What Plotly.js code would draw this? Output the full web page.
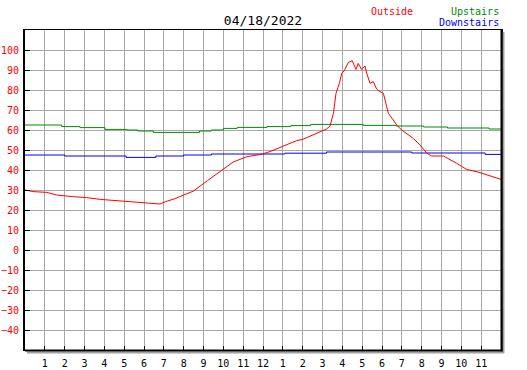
<!DOCTYPE html>
<html>
<head>
<meta charset="utf-8">
<script src="https://cdn.plot.ly/plotly-3.0.1.min.js"></script>
<style>html,body{margin:0;padding:0;background:#fff;}#chart{width:527px;height:370px;}</style>
</head>
<body>
<div id="chart"></div>
<script>
// Data (hours since midnight, temperatures)
var outsideHours = [0,0.4,1.1,1.6,2.4,3.1,3.8,4.5,5.1,5.8,6.5,6.8,7.1,7.6,8.0,8.5,9.2,9.8,10.5,11.2,11.9,12.35,13.0,13.7,14.0,14.4,14.9,15.2,15.38,15.55,15.68,15.85,15.97,16.1,16.3,16.5,16.59,16.69,16.8,16.97,17.14,17.23,17.4,17.56,17.73,17.82,18.07,18.2,18.32,18.57,18.74,18.99,19.33,19.58,19.92,20.25,20.5,21.1,21.77,22.27,22.94,23.6,24];
var outsideTemps = [30,29.2,28.8,27.5,26.7,26.2,25.3,24.7,24.2,23.7,23.2,23,24.2,25.8,27.5,29.5,34.7,39,44,46.7,47.8,49.2,52,54.7,55.3,57,59.2,60.5,62,68.3,78.3,83.3,88.3,89.7,93.7,94.7,92.5,90.3,93.3,90.3,92,88.3,83.3,84.2,80.5,79.7,78.3,73.3,68.3,65,62.5,60,57.5,55.8,52.5,48.5,47,47,43.3,40.3,38.7,36.7,35.3];

var upstairsHours = [0,1.85,2.77,4.03,5.13,5.7,6.47,8.8,9.4,10,10.7,12.2,13.4,14.4,17.05,18.7,20.1,21.3,23.4,24];
var upstairsTemps = [62.5,61.7,61.2,60.3,60,59.5,58.8,59.5,60,60.8,61.3,61.7,62.2,62.8,62.3,62,61.5,61,60.5,60.5];

var downstairsHours = [0,2,5.1,6.6,8,9.4,13.1,15.2,19.5,23.2,24];
var downstairsTemps = [47.5,47,46.3,47,47.5,48,48.4,49,48.5,47.8,47.8];

var xTickVals = [1,2,3,4,5,6,7,8,9,10,11,12,13,14,15,16,17,18,19,20,21,22,23];
var xTickText = ['1','2','3','4','5','6','7','8','9','10','11','12','1','2','3','4','5','6','7','8','9','10','11'];
var yTickVals = [-40,-30,-20,-10,0,10,20,30,40,50,60,70,80,90,100];

var mono = 'DejaVu Sans Mono, monospace';

var traces = [
  {x: upstairsHours, y: upstairsTemps, type: 'scatter', mode: 'lines', line: {color: '#008c00', width: 1, shape: 'hv'}, name: 'Upstairs'},
  {x: downstairsHours, y: downstairsTemps, type: 'scatter', mode: 'lines', line: {color: '#0000ff', width: 1, shape: 'hv'}, name: 'Downstairs'},
  {x: outsideHours, y: outsideTemps, type: 'scatter', mode: 'lines', line: {color: '#ff0000', width: 1}, name: 'Outside'}
];

var pxX = 1/476, pxY = 1/320;

var layout = {
  width: 527, height: 370,
  margin: {l: 25, r: 26, t: 30, b: 20, pad: 0},
  paper_bgcolor: '#ffffff', plot_bgcolor: '#ffffff',
  showlegend: false,
  title: {text: '04/18/2022', font: {family: mono, size: 13, color: '#000'}, x: 0.5, xref: 'paper', xanchor: 'center', y: 1 - 20/370, yref: 'container', yanchor: 'middle'},
  xaxis: {
    range: [0, 24], tickmode: 'array', tickvals: xTickVals, ticktext: xTickText,
    showgrid: true, gridcolor: '#a8a8a8', gridwidth: 1, zeroline: false,
    ticks: 'inside', ticklen: 4, tickcolor: '#000', tickwidth: 1,
    showline: true, mirror: true, linecolor: '#000', linewidth: 1,
    tickfont: {family: mono, size: 10, color: '#000'}, ticklabelstandoff: 4, fixedrange: true
  },
  yaxis: {
    range: [-50, 110], tickmode: 'array', tickvals: yTickVals,
    showgrid: true, gridcolor: '#a8a8a8', gridwidth: 1, zeroline: false,
    ticks: 'inside', ticklen: 5, tickcolor: '#000', tickwidth: 1,
    showline: true, mirror: true, linecolor: '#000', linewidth: 2,
    tickfont: {family: mono, size: 10, color: '#ff0000'}, ticklabelstandoff: 2, fixedrange: true
  },
  shapes: [
    {type: 'line', xref: 'paper', yref: 'paper', x0: 1 + 2.5*pxX, x1: 1 + 2.5*pxX, y0: 1 - 2*pxY, y1: -3*pxY, line: {color: '#a0a0a0', width: 2}},
    {type: 'line', xref: 'paper', yref: 'paper', x0: 2*pxX, x1: 1 + 3*pxX, y0: -2.5*pxY, y1: -2.5*pxY, line: {color: '#a0a0a0', width: 2}},
    {type: 'line', xref: 'paper', yref: 'paper', x0: 1 + 0.5*pxX, x1: 1 + 0.5*pxX, y0: 1, y1: -1.5*pxY, line: {color: '#000', width: 2}},
    {type: 'line', xref: 'paper', yref: 'paper', x0: 0, x1: 1 + 1.5*pxX, y0: -0.5*pxY, y1: -0.5*pxY, line: {color: '#000', width: 2}}
  ],
  annotations: [
    {text: 'Outside', xref: 'paper', yref: 'paper', x: (369 - 25)*pxX, y: 1 + (30 - 11)*pxY, xanchor: 'left', yanchor: 'middle', showarrow: false, font: {family: mono, size: 10, color: '#ff0000'}},
    {text: 'Upstairs', xref: 'paper', yref: 'paper', x: (501 - 25)*pxX, y: 1 + (30 - 11)*pxY, xanchor: 'right', yanchor: 'middle', showarrow: false, font: {family: mono, size: 10, color: '#008c00'}},
    {text: 'Downstairs', xref: 'paper', yref: 'paper', x: (501 - 25)*pxX, y: 1 + (30 - 23)*pxY, xanchor: 'right', yanchor: 'middle', showarrow: false, font: {family: mono, size: 10, color: '#0000ff'}}
  ]
};

Plotly.newPlot('chart', traces, layout, {staticPlot: true, displayModeBar: false});
</script>
</body>
</html>
